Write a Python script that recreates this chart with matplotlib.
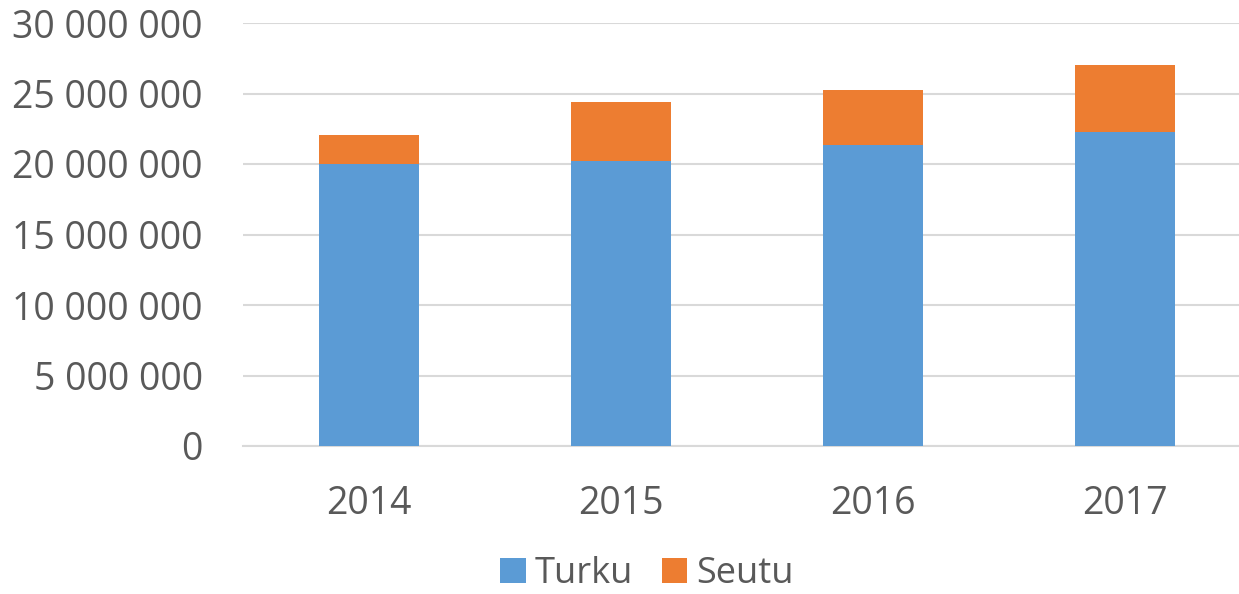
import numpy as np
import matplotlib
matplotlib.use('Agg')
import matplotlib.pyplot as plt
from matplotlib.ticker import FuncFormatter

####################################################################################################

years = ['2014', '2015', '2016', '2017']
turku = [20.0e6, 20.2e6, 21.33e6, 22.3e6]
seutu = [2.09e6, 4.21e6, 3.93e6, 4.71e6]

blue = '#5B9BD5'
orange = '#ED7D31'
grey = '#595959'

plt.rcParams['font.family'] = ['Open Sans', 'DejaVu Sans']

fig = plt.figure(figsize=(12.39, 5.94), dpi=100)
ax = fig.add_axes([243 / 1239, 1 - 446 / 594, 1008 / 1239, 423 / 594])

x = np.arange(len(years))
ax.bar(x, turku, width=0.4, color=blue, label='Turku', zorder=3)
ax.bar(x, seutu, width=0.4, bottom=turku, color=orange, label='Seutu', zorder=3)

ax.set_xlim(-0.5, len(years) - 0.5)
ax.set_ylim(0, 30e6)
ax.set_yticks(np.arange(0, 30e6 + 1, 5e6))
ax.yaxis.set_major_formatter(FuncFormatter(lambda v, p: f'{int(v):,}'.replace(',', ' ')))
ax.set_xticks(x)
ax.set_xticklabels(years)

ax.grid(axis='y', color='#D9D9D9', linewidth=1.5, zorder=0)
for s in ax.spines.values():
    s.set_visible(False)
ax.spines['bottom'].set_visible(True)
ax.spines['bottom'].set_color('#D9D9D9')
ax.spines['bottom'].set_linewidth(1.5)
ax.tick_params(axis='both', length=0, labelsize=27, labelcolor=grey)
ax.tick_params(axis='y', pad=29)
ax.tick_params(axis='x', pad=28)

fig.legend(loc='center', bbox_to_anchor=(647 / 1239, 1 - 574 / 594), ncol=2, frameon=False,
           fontsize=26, labelcolor=grey, handlelength=0.7, handleheight=0.7,
           handletextpad=0.25, columnspacing=0.8, borderpad=0.1)

fig.savefig('out.png', dpi=100)
